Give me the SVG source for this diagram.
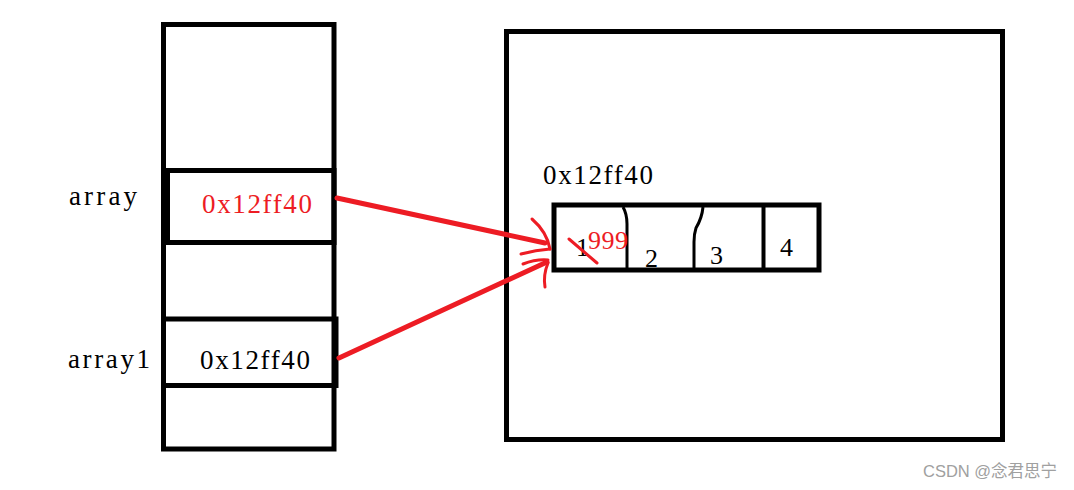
<svg xmlns="http://www.w3.org/2000/svg" width="1074" height="490" viewBox="0 0 1074 490">
<style>
.box{fill:none;stroke:#000;stroke-width:5}
.div{fill:none;stroke:#000;stroke-width:3}
.t{font-family:"Liberation Serif","Times New Roman",serif;font-size:27px;fill:#000}
.n{font-family:"Liberation Serif","Times New Roman",serif;font-size:26px;fill:#000}
.red{fill:#ed1c24}
.ar{fill:none;stroke:#ed1c24;stroke-width:5;stroke-linecap:round;stroke-linejoin:round}
.ab{fill:none;stroke:#ed1c24;stroke-width:3;stroke-linecap:round}
.wm{font-family:"Liberation Sans","Noto Sans CJK SC",sans-serif;font-size:16.5px;fill:#a0a0a0}
</style>
<rect width="1074" height="490" fill="#fff"/>
<g id="stack">
  <rect class="box" x="163.5" y="24.5" width="170.5" height="424.5"/>
</g>
<g id="array">
  <rect class="box" x="167.5" y="170.5" width="166.5" height="72"/>
  <text class="t" x="69" y="205" textLength="68" lengthAdjust="spacing">array</text>
  <text class="t red" x="202" y="213" textLength="110" lengthAdjust="spacing">0x12ff40</text>
</g>
<g id="array1">
  <rect class="box" x="163.5" y="319" width="172.5" height="66.5"/>
  <text class="t" x="68" y="368" textLength="82" lengthAdjust="spacing">array1</text>
  <text class="t" x="200" y="369" textLength="110" lengthAdjust="spacing">0x12ff40</text>
</g>
<g id="heap">
  <rect class="box" x="506.5" y="31.5" width="496" height="408"/>
  <text class="t" x="543" y="184" textLength="110" lengthAdjust="spacing">0x12ff40</text>
</g>
<g id="arr">
  <rect class="box" x="554" y="205" width="265" height="65"/>
  <path class="div" d="M623,207 Q627,214 627,224 L627,268"/>
  <path class="div" d="M703,207 Q702,218 696,228 Q694,234 694,242 L694,268"/>
  <path class="box" style="stroke-width:4" d="M763.5,207 L763.5,268"/>
  <text class="n" x="576" y="256">1</text>
  <path class="ab" d="M569,239 L597,263"/>
  <text class="n red" x="588" y="249" textLength="40" lengthAdjust="spacing">999</text>
  <text class="n" x="645" y="267">2</text>
  <text class="n" x="710" y="264">3</text>
  <text class="n" x="780" y="256">4</text>
</g>
<g id="connectors">
  <path class="ar" d="M337,198 L545,243"/>
  <path class="ab" d="M532,219 Q547,232 550,249"/>
  <path class="ab" d="M521,254 Q536,250 550,249"/>
  <path class="ar" d="M339,358 L547,262"/>
  <path class="ab" d="M523,264 Q536,259 548,260"/>
  <path class="ab" d="M548,263 Q543,275 545,287"/>
</g>
<text class="wm" x="923" y="477">CSDN @念君思宁</text>
</svg>
